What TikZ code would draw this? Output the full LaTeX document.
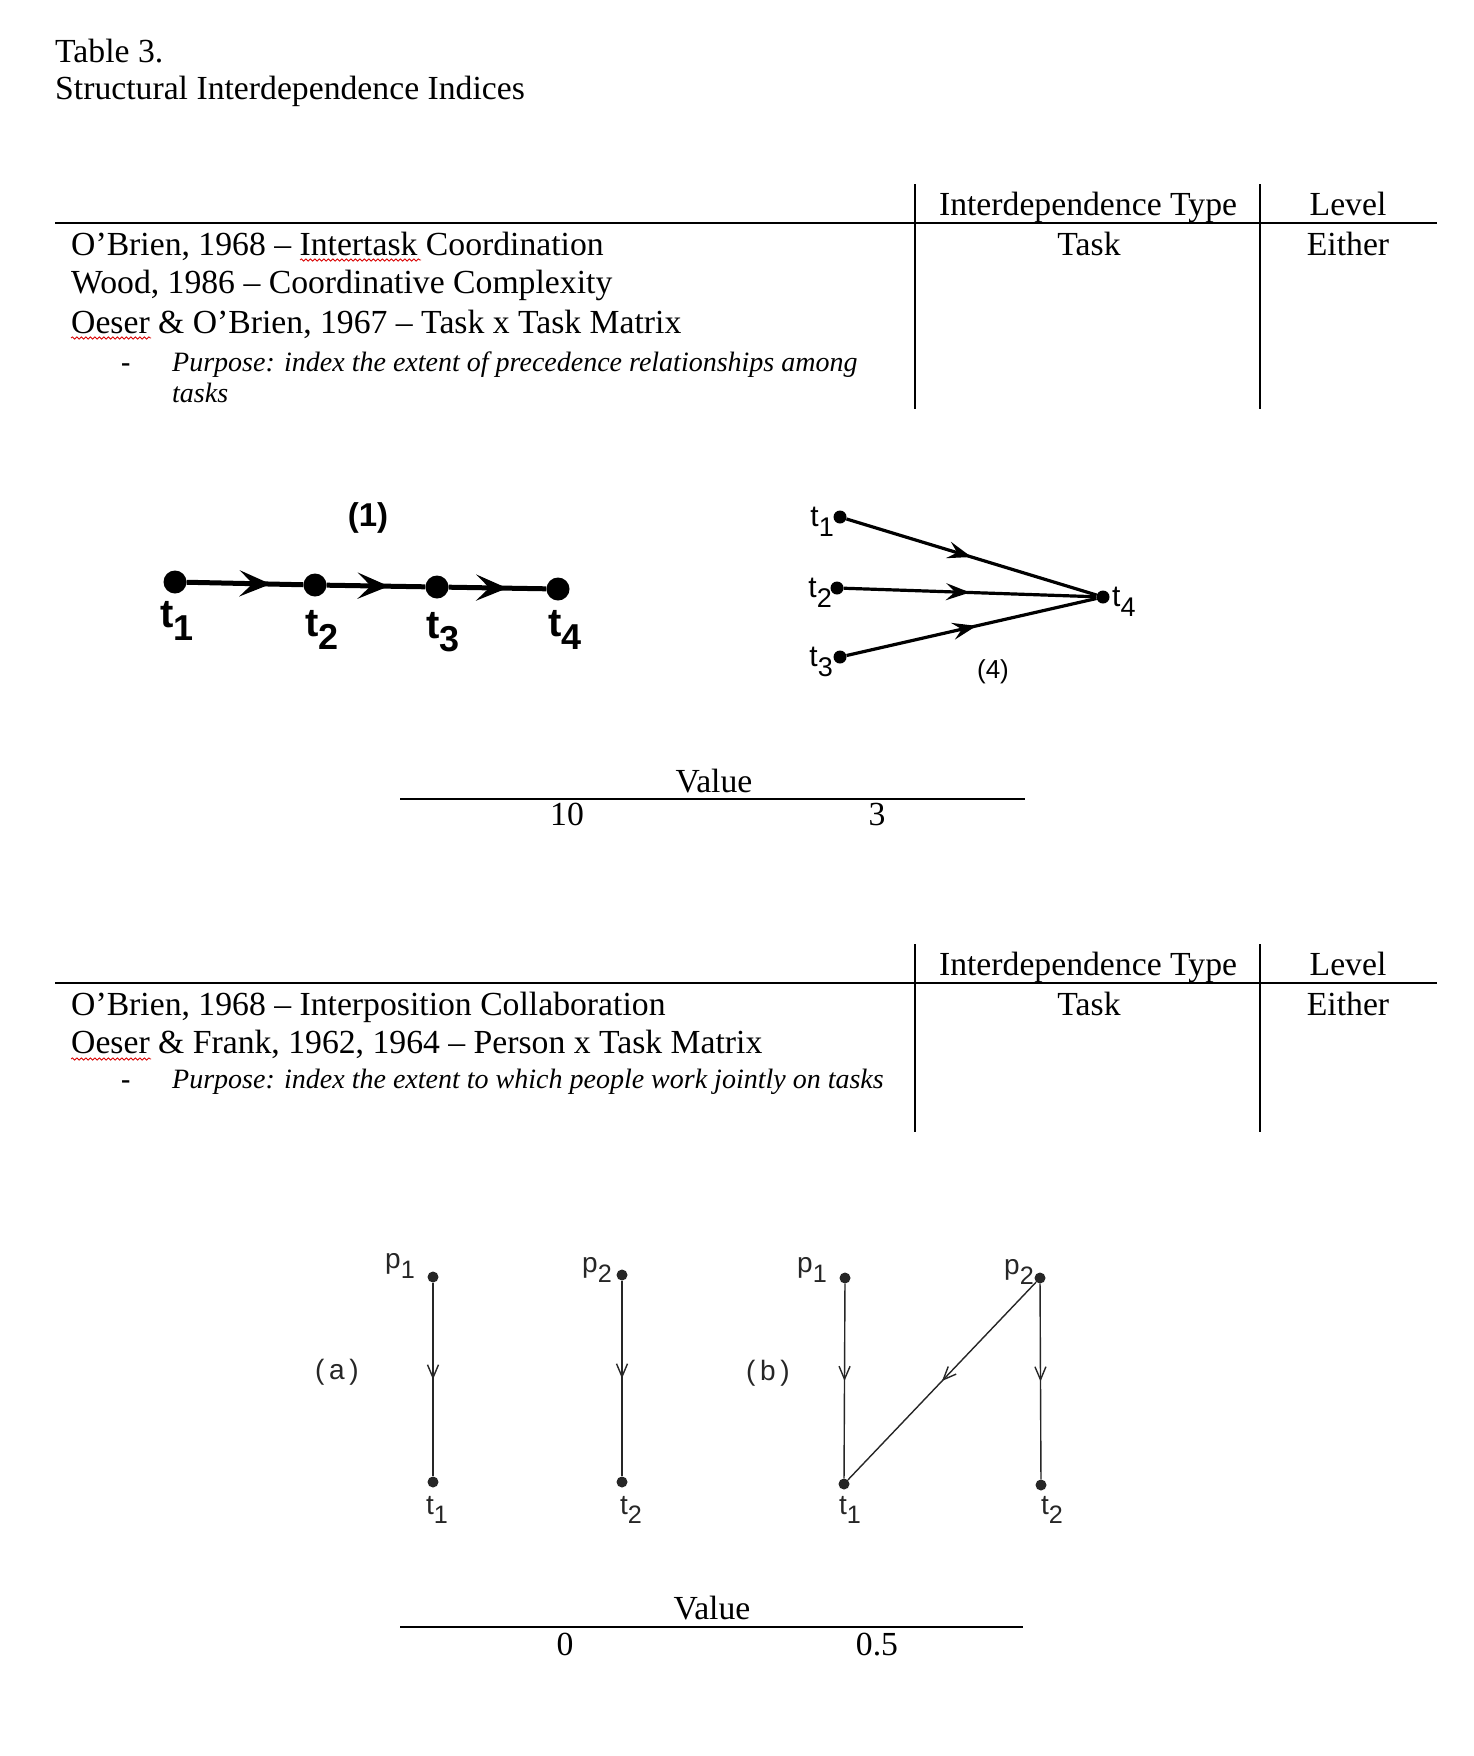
\documentclass[tikz,border=0pt]{standalone}
\usepackage{fontspec}
\usepackage{graphicx}
\setmainfont{Liberation Serif}
\newfontfamily\handfont{Liberation Sans}
\usetikzlibrary{arrows.meta,decorations.pathmorphing,decorations.markings}
\newcommand\lsub[1]{\raisebox{-0.34em}{\scalebox{0.9}{#1}}}
\begin{document}
\begin{tikzpicture}[x=1pt,y=-1pt,
  txt/.style={inner sep=0pt, font=\fontsize{33.7}{40}\selectfont},
  itx/.style={inner sep=0pt, font=\fontsize{28}{34}\selectfont\itshape},
  dsh/.style={inner sep=0pt, font=\fontsize{28}{34}\selectfont\bfseries},
  rulel/.style={line width=2.2pt},
  coll/.style={line width=1.3pt},
  squig/.style={red!85!black, line width=0.8pt, decorate,
    decoration={snake, amplitude=1.1pt, segment length=4.5pt}},
  dotA/.style={circle, fill=black, inner sep=0pt, minimum size=23pt},
  dotB/.style={circle, fill=black, inner sep=0pt, minimum size=13pt},
  dotC/.style={circle, fill=black!85, inner sep=0pt, minimum size=11pt},
  edgeA/.style={line width=5pt, postaction={decorate},
    decoration={markings, mark=at position #1 with {\arrow{Stealth[length=31pt,width=26pt,inset=13pt]}}}},
  edgeB/.style={line width=3.2pt, postaction={decorate},
    decoration={markings, mark=at position #1 with {\arrow{Stealth[length=24pt,width=17pt,inset=9pt]}}}},
  edgeC/.style={line width=1.4pt, draw=black!85, postaction={decorate},
    decoration={markings, mark=at position #1 with {\arrow[black!85]{Straight Barb[length=13pt,width=11pt,line width=1.4pt]}}}},
  lblA/.style={inner sep=0pt, font=\handfont\bfseries\fontsize{40}{40}\selectfont},
  lblB/.style={inner sep=0pt, font=\handfont\fontsize{30}{30}\selectfont},
  lblC/.style={inner sep=0pt, text=black!85, font=\handfont\fontsize{28}{28}\selectfont},
]
\fill[white] (0,0) rectangle (1474,1756);
\useasboundingbox (0,0) rectangle (1474,1756);

% ---- title
\node[txt, anchor=base west] (title) at (55,62) {Table 3.};
\node[txt, anchor=base west] (subtitle) at (55,99) {Structural Interdependence Indices};

% ---- table 1
\draw[rulel] (55,223) -- (1437,223);
\draw[coll] (915,184) -- (915,409);
\draw[coll] (1260,184) -- (1260,409);
\node[txt, anchor=base] (h1a) at (1088,215) {Interdependence Type};
\node[txt, anchor=base] (h1b) at (1348,215) {Level};
\node[txt, anchor=base] (v1a) at (1089,255) {Task};
\node[txt, anchor=base] (v1b) at (1348,255) {Either};
\node[txt, anchor=base west] (r1a) at (71,255) {O’Brien, 1968 – Intertask Coordination};
\node[txt, anchor=base west] (r1b) at (71,293) {Wood, 1986 – Coordinative Complexity};
\node[txt, anchor=base west] (r1c) at (71,333) {Oeser \& O’Brien, 1967 – Task x Task Matrix};
\node[dsh, anchor=base west] (d1) at (121,371) {-};
\node[itx, anchor=base west] (p1a) at (172,371) {Purpose: index the extent of precedence relationships among};
\node[itx, anchor=base west] (p1b) at (172,402) {tasks};
\draw[squig] (300,260) -- (421,260);
\draw[squig] (71,338) -- (151,338);

% ---- graph (1)
\node[lblA, font=\handfont\bfseries\fontsize{33}{33}\selectfont] (n1) at (368,518) {(1)};
\node[dotA] (g1) at (175,582) {};
\node[dotA] (g2) at (315,585) {};
\node[dotA] (g3) at (437,587) {};
\node[dotA] (g4) at (558,589) {};
\draw[edgeA=0.72] (g1) -- (g2);
\draw[edgeA=0.63] (g2) -- (g3);
\draw[edgeA=0.6] (g3) -- (g4);
\node[lblA, anchor=north] (l1) at (177,601) {t\lsub{1}};
\node[lblA, anchor=north] (l2) at (322,610) {t\lsub{2}};
\node[lblA, anchor=north] (l3) at (443,612) {t\lsub{3}};
\node[lblA, anchor=north] (l4) at (565,610) {t\lsub{4}};

% ---- graph (4)
\node[dotB] (f1) at (840,517) {};
\node[dotB] (f2) at (837,588) {};
\node[dotB] (f3) at (840,657) {};
\node[dotB] (f4) at (1103,597) {};
\draw[edgeB=0.5] (f1) -- (f4);
\draw[edgeB=0.5] (f2) -- (f4);
\draw[edgeB=0.52] (f3) -- (f4);
\node[lblB, anchor=east] (k1) at (834,522) {t\lsub{1}};
\node[lblB, anchor=east] (k2) at (832,593) {t\lsub{2}};
\node[lblB, anchor=east] (k3) at (833,662) {t\lsub{3}};
\node[lblB, anchor=west] (k4) at (1112,602) {t\lsub{4}};
\node[lblB, font=\handfont\fontsize{26}{26}\selectfont] (n4) at (993,672) {(4)};

% ---- value 1
\node[txt, anchor=base] (val1) at (714,792) {Value};
\draw[rulel] (400,799) -- (1025,799);
\node[txt, anchor=base] (val1a) at (567,825) {10};
\node[txt, anchor=base] (val1b) at (877,825) {3};

% ---- table 2
\draw[rulel] (55,983) -- (1437,983);
\draw[coll] (915,944) -- (915,1132);
\draw[coll] (1260,944) -- (1260,1132);
\node[txt, anchor=base] (h2a) at (1088,975) {Interdependence Type};
\node[txt, anchor=base] (h2b) at (1348,975) {Level};
\node[txt, anchor=base] (v2a) at (1089,1015) {Task};
\node[txt, anchor=base] (v2b) at (1348,1015) {Either};
\node[txt, anchor=base west] (r2a) at (71,1015) {O’Brien, 1968 – Interposition Collaboration};
\node[txt, anchor=base west] (r2b) at (71,1053) {Oeser \& Frank, 1962, 1964 – Person x Task Matrix};
\node[dsh, anchor=base west] (d2) at (121,1088) {-};
\node[itx, anchor=base west] (p2a) at (172,1088) {Purpose: index the extent to which people work jointly on tasks};
\draw[squig] (71,1059) -- (151,1059);

% ---- graph (a)
\node[lblC, font=\handfont\fontsize{28}{28}\selectfont] (na) at (337,1372) {(\,a\,)};
\node[dotC] (a1) at (433,1277) {};
\node[dotC] (a2) at (433,1482) {};
\node[dotC] (a3) at (622,1275) {};
\node[dotC] (a4) at (622,1482) {};
\draw[edgeC=0.5] (a1) -- (a2);
\draw[edgeC=0.5] (a3) -- (a4);
\node[lblC, anchor=east] (pa1) at (415,1266) {p\lsub{1}};
\node[lblC, anchor=north] (ta1) at (437,1496) {t\lsub{1}};
\node[lblC, anchor=east] (pa2) at (612,1270) {p\lsub{2}};
\node[lblC, anchor=north] (ta2) at (631,1496) {t\lsub{2}};

% ---- graph (b)
\node[lblC, font=\handfont\fontsize{28}{28}\selectfont] (nb) at (768,1373) {(\,b\,)};
\node[dotC] (b1) at (845,1278) {};
\node[dotC] (b2) at (844,1484) {};
\node[dotC] (b3) at (1040,1278) {};
\node[dotC] (b4) at (1041,1485) {};
\draw[edgeC=0.5] (b1) -- (b2);
\draw[edgeC=0.5] (b3) -- (b4);
\draw[edgeC=0.5] (b3) -- (b2);
\node[lblC, anchor=east] (pb1) at (827,1270) {p\lsub{1}};
\node[lblC, anchor=north] (tb1) at (850,1496) {t\lsub{1}};
\node[lblC, anchor=east] (pb2) at (1034,1272) {p\lsub{2}};
\node[lblC, anchor=north] (tb2) at (1052,1496) {t\lsub{2}};

% ---- value 2
\node[txt, anchor=base] (val2) at (712,1619) {Value};
\draw[rulel] (400,1627) -- (1023,1627);
\node[txt, anchor=base] (val2a) at (565,1655) {0};
\node[txt, anchor=base] (val2b) at (877,1655) {0.5};
\end{tikzpicture}
\end{document}
